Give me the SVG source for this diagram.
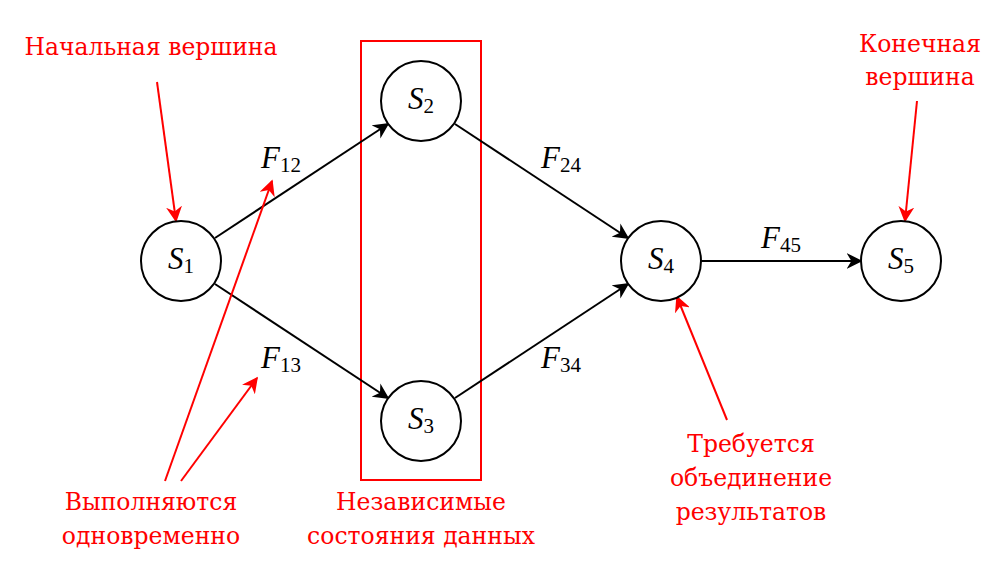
<svg xmlns="http://www.w3.org/2000/svg" width="1002" height="562" viewBox="0 0 1002 562">
<style>
.node circle{fill:#fff;stroke:#000;stroke-width:2}
.m{font-family:"Liberation Serif",serif;font-style:italic;font-size:31px;fill:#000}
.c{text-anchor:middle}
.m tspan.s{font-style:normal;font-size:21px}
.e{stroke:#000;stroke-width:2;fill:none;marker-end:url(#ab)}
.r{stroke:#f00;stroke-width:2;fill:none;marker-end:url(#ar)}
.t{font-family:"DejaVu Serif",serif;font-size:23.5px;fill:#f00;text-anchor:middle}
</style>
<defs>
<marker id="ab" viewBox="0 0 10 10" refX="9" refY="5" markerWidth="16" markerHeight="16" markerUnits="userSpaceOnUse" orient="auto"><path d="M0,0 L10,5 L0,10 L3,5 z" fill="#000"/></marker>
<marker id="ar" viewBox="0 0 10 10" refX="9" refY="5" markerWidth="16" markerHeight="16" markerUnits="userSpaceOnUse" orient="auto"><path d="M0,0 L10,5 L0,10 L3,5 z" fill="#f00"/></marker>
</defs>
<rect id="box" x="361" y="41" width="120" height="439" fill="none" stroke="#f00" stroke-width="2"/>
<g id="connectors">
<line class="e" x1="215" y1="238" x2="388" y2="124"/>
<line class="e" x1="215" y1="284" x2="388" y2="398"/>
<line class="e" x1="455" y1="124" x2="628" y2="238"/>
<line class="e" x1="455" y1="398" x2="628" y2="284"/>
<line class="e" x1="701" y1="261" x2="861" y2="261"/>
<line class="r" x1="157" y1="82" x2="176" y2="221"/>
<line class="r" x1="917" y1="101" x2="905" y2="221"/>
<line class="r" x1="727" y1="420" x2="677" y2="297"/>
<line class="r" x1="165" y1="481" x2="272" y2="181"/>
<line class="r" x1="181" y1="481" x2="257" y2="378"/>
</g>
<g id="n1" class="node"><circle cx="181" cy="261" r="40"/><text class="m c" x="181" y="269">S<tspan class="s" dy="4">1</tspan></text></g>
<g id="n2" class="node"><circle cx="421" cy="101" r="40"/><text class="m c" x="421" y="109">S<tspan class="s" dy="4">2</tspan></text></g>
<g id="n3" class="node"><circle cx="421" cy="421" r="40"/><text class="m c" x="421" y="429">S<tspan class="s" dy="4">3</tspan></text></g>
<g id="n4" class="node"><circle cx="661" cy="261" r="40"/><text class="m c" x="661" y="269">S<tspan class="s" dy="4">4</tspan></text></g>
<g id="n5" class="node"><circle cx="901" cy="261" r="40"/><text class="m c" x="901" y="269">S<tspan class="s" dy="4">5</tspan></text></g>
<g id="labels">
<text class="m" x="261" y="168">F<tspan class="s" dy="4">12</tspan></text>
<text class="m" x="261" y="368">F<tspan class="s" dy="4">13</tspan></text>
<text class="m" x="541" y="168">F<tspan class="s" dy="4">24</tspan></text>
<text class="m" x="541" y="368">F<tspan class="s" dy="4">34</tspan></text>
<text class="m" x="761" y="248">F<tspan class="s" dy="4">45</tspan></text>
<text class="t" x="151" y="55">Начальная вершина</text>
<text class="t" x="920" y="52">Конечная</text>
<text class="t" x="920" y="85">вершина</text>
<text class="t" x="751" y="452">Требуется</text>
<text class="t" x="751" y="486">объединение</text>
<text class="t" x="751" y="520">результатов</text>
<text class="t" x="151" y="510">Выполняются</text>
<text class="t" x="151" y="544">одновременно</text>
<text class="t" x="421" y="510">Независимые</text>
<text class="t" x="421" y="544">состояния данных</text>
</g>
</svg>
